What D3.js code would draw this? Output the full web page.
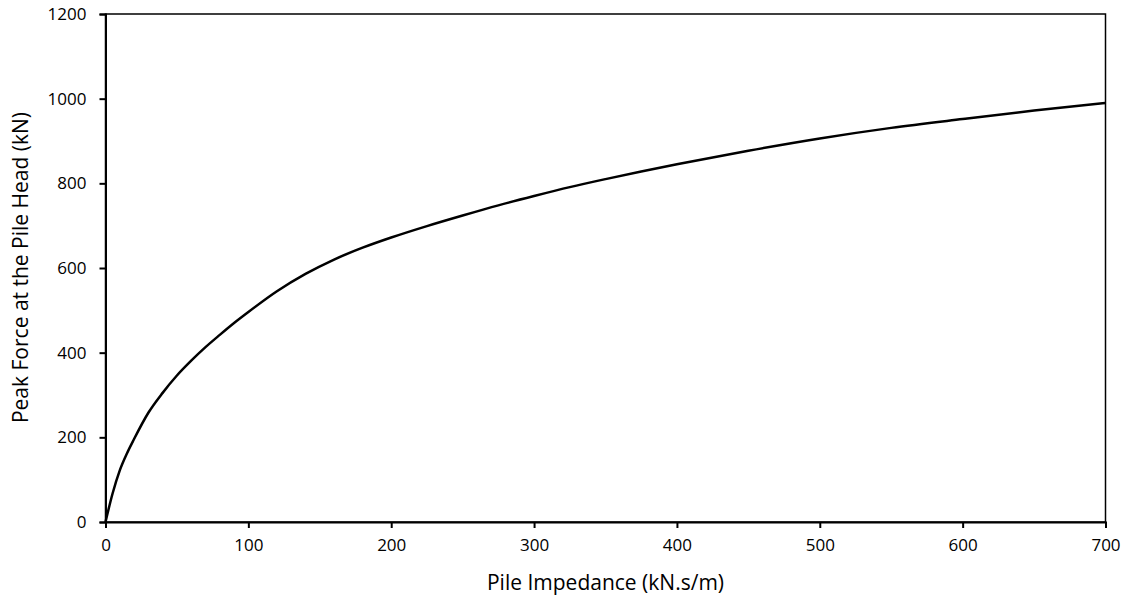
<!DOCTYPE html>
<html><head><meta charset="utf-8">
<script src="https://cdn.jsdelivr.net/npm/d3@7"></script>
<style>
body{margin:0;background:#fff;}
svg text{font-family:"Open Sans",Lato,sans-serif;fill:#000;}
</style></head>
<body><svg id="c" width="1130" height="599"></svg>
<script>
const impedance = [0,5,10,15,20,30,40,50,60,70,80,90,100,120,140,160,180,200,225,250,275,300,325,350,375,400,450,500,550,600,650,700];
const peakForce = [0,68,122,162,196,258,305,346,381,413,442,470,496,545,586,620,648,672,699,724,748,770,791,810,828,845,877,906,931,952,972,990];
const xTicks = [0,100,200,300,400,500,600,700];
const yTicks = [0,200,400,600,800,1000,1200];
const xTitle = "Pile Impedance (kN.s/m)";
const yTitle = "Peak Force at the Pile Head (kN)";

const FS = "17px", TFS = "21px";
const svg = d3.select("#c");
const L=105.5, R=1105.5, T=14, B=522;
const x = d3.scaleLinear().domain([0,700]).range([L,R]);
const y = d3.scaleLinear().domain([0,1200]).range([B,T]);

svg.append("rect").attr("x",L).attr("y",T).attr("width",R-L).attr("height",B-T)
  .attr("fill","none").attr("stroke","#000").attr("stroke-width",1.5);

const xa = svg.append("g").attr("transform",`translate(0,${B})`)
  .call(d3.axisBottom(x).tickValues(xTicks).tickSize(6).tickPadding(11).tickFormat(d3.format("d")));
const ya = svg.append("g").attr("transform",`translate(${L},0)`)
  .call(d3.axisLeft(y).tickValues(yTicks).tickSize(6).tickPadding(13).tickFormat(d3.format("d")));
[xa,ya].forEach(g=>{
  g.select(".domain").attr("stroke","#000").attr("stroke-width",2);
  g.selectAll(".tick line").attr("stroke","#000").attr("stroke-width",2);
  g.selectAll("text").style("font-size",FS).style("font-family","'Open Sans',Lato,sans-serif").attr("fill","#000");
});

svg.append("path").datum(impedance.map((v,i)=>[v,peakForce[i]]))
  .attr("fill","none").attr("stroke","#000").attr("stroke-width",2.5)
  .attr("d", d3.line().x(d=>x(d[0])).y(d=>y(d[1])).curve(d3.curveMonotoneX));

svg.append("text").attr("x",(L+R)/2).attr("y",590).attr("text-anchor","middle")
  .style("font-size",TFS).text(xTitle);
svg.append("text").attr("transform",`translate(28,267.5) rotate(-90)`).attr("text-anchor","middle")
  .style("font-size",TFS).text(yTitle);
</script></body></html>
